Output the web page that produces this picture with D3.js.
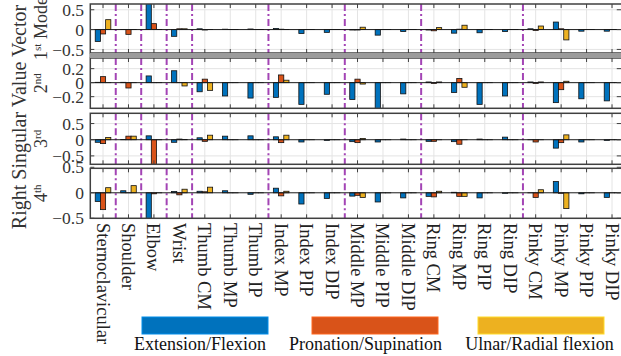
<!DOCTYPE html>
<html>
<head>
<meta charset="utf-8">
<script src="https://cdn.jsdelivr.net/npm/d3@7"></script>
<style>
  html, body { margin: 0; padding: 0; background: #fff; }
  svg { display: block; }
</style>
</head>
<body>
<svg id="chart" width="621" height="356"></svg>
<script>
// ---------------- DATA ----------------
const joints = ["Sternoclavicular","Shoulder","Elbow","Wrist","Thumb CM","Thumb MP","Thumb IP",
  "Index MP","Index PIP","Index DIP","Middle MP","Middle PIP","Middle DIP",
  "Ring CM","Ring MP","Ring PIP","Ring DIP","Pinky CM","Pinky MP","Pinky PIP","Pinky DIP"];
const dofNames = ["Extension/Flexion","Pronation/Supination","Ulnar/Radial flexion"];
const modeNames = ["1st Mode","2nd","3rd","4th"];
const groupBreaks = [1, 2, 3, 4, 7, 10, 13, 17]; // separator after these joint counts

// mode 1
const mode1Ext = [-0.30, 0.00, 0.70, -0.17, 0.02, 0.01, 0.015, 0.03, -0.10, -0.07, -0.01, -0.14, -0.05, -0.01, -0.09, -0.08, -0.05, 0.02, 0.19, -0.04, -0.04];
const mode1Pro = [-0.11, -0.12, 0.15, 0.02, -0.01, 0, 0, 0.01, 0, 0, -0.01, 0, 0, -0.03, 0.01, 0, 0, -0.02, 0.02, 0, 0];
const mode1Uln = [0.25, 0, 0, 0.02, 0, 0, 0, 0, 0, 0, 0.06, 0, 0, 0.05, 0.11, 0, 0, 0.09, -0.26, 0, 0];
// mode 2
const mode2Ext = [0.005, 0.005, 0.096, 0.17, -0.13, -0.19, -0.22, -0.21, -0.31, -0.166, -0.24, -0.40, -0.16, 0.01, -0.14, -0.31, -0.19, 0.01, -0.285, -0.23, -0.26];
const mode2Pro = [0.086, -0.076, 0, 0, 0.05, 0, 0, 0.11, 0, 0, 0.05, 0, 0, -0.01, 0.06, 0, 0, -0.01, -0.10, 0, 0];
const mode2Uln = [0, 0, 0, -0.047, -0.11, 0, 0, 0.035, 0, 0, -0.02, 0, 0, 0.01, -0.066, 0, 0, 0.01, 0.02, 0, 0];
// mode 3
const mode3Ext = [-0.08, 0.01, 0.12, -0.08, 0.06, 0.11, 0.12, 0.09, -0.07, -0.02, -0.06, -0.07, 0.02, -0.05, -0.06, 0.02, 0.08, 0, -0.26, -0.07, -0.02];
const mode3Pro = [-0.12, 0.11, -0.85, 0.02, -0.05, 0, 0, -0.09, 0, 0, -0.09, 0, 0, -0.05, -0.14, 0, 0, -0.07, -0.09, 0, 0];
const mode3Uln = [0.07, 0.11, 0, 0.01, 0.14, 0, 0, 0.14, 0, 0, 0.04, 0, 0, 0, 0, 0, 0, 0, 0.15, 0, 0];
// mode 4
const mode4Ext = [-0.17, 0.04, -0.55, 0.026, 0.03, 0.04, -0.03, 0.09, -0.22, -0.11, -0.065, -0.18, -0.10, -0.07, 0.01, -0.10, -0.01, 0, 0.22, -0.02, -0.09];
const mode4Pro = [-0.33, 0, -0.02, -0.04, 0.02, 0, 0, -0.06, 0, 0, -0.05, 0, 0, -0.08, -0.07, 0, 0, -0.09, -0.01, 0, 0];
const mode4Uln = [0.10, 0.14, 0, 0.07, 0.11, 0, 0, 0.03, 0, 0, -0.09, 0, 0, 0.03, -0.07, 0, 0, 0.06, -0.31, 0, 0];

const yTicks1 = [-0.5, 0, 0.5];
const yTicks2 = [-0.2, 0, 0.2];
const yTicks3 = [-0.5, 0, 0.5];
const yTicks4 = [-0.5, 0, 0.5];

// ---------------- STYLE / LAYOUT ----------------
const colors = ["#0072BD", "#D95319", "#EDB120"];
const serif = "'Liberation Serif','Times New Roman',serif";
const axisColor = "#404040";
const plotLeft = 90.3, plotRight = 624.75;

const panels = [
  { ext: mode1Ext, pro: mode1Pro, uln: mode1Uln, ticks: yTicks1, top: 4,     bottom: 53,    dom: [-0.59, 0.645] },
  { ext: mode2Ext, pro: mode2Pro, uln: mode2Uln, ticks: yTicks2, top: 58,    bottom: 108.3, dom: [-0.366, 0.352] },
  { ext: mode3Ext, pro: mode3Pro, uln: mode3Uln, ticks: yTicks3, top: 113.3, bottom: 164.3, dom: [-0.76, 0.817] },
  { ext: mode4Ext, pro: mode4Pro, uln: mode4Uln, ticks: yTicks4, top: 168.3, bottom: 218.3, dom: [-0.5, 0.48] }
];

const svg = d3.select("#chart");

const x = d3.scaleBand().domain(joints).range([plotLeft, plotRight]).paddingInner(0).paddingOuter(0);
const groupW = 15.6;
const x1 = d3.scaleBand().domain(d3.range(3)).range([0, groupW]).padding(0);
const xCenter = j => x(j) + x.bandwidth() / 2;

// clip to panel rectangles
const defs = svg.append("defs");

panels.forEach((p, pi) => {
  const y = d3.scaleLinear().domain(p.dom).range([p.bottom, p.top]);
  const g = svg.append("g");
  const clipId = "clip" + pi;
  defs.append("clipPath").attr("id", clipId)
    .append("rect").attr("x", plotLeft).attr("y", p.top).attr("width", plotRight - plotLeft).attr("height", p.bottom - p.top);

  const inner = g.append("g").attr("clip-path", `url(#${clipId})`);

  // vertical grid
  inner.selectAll("line.vg").data(joints).join("line")
    .attr("x1", d => xCenter(d)).attr("x2", d => xCenter(d))
    .attr("y1", p.top).attr("y2", p.bottom)
    .attr("stroke", "#e4e4e4").attr("stroke-width", 1);
  // horizontal grid
  inner.selectAll("line.hg").data(p.ticks.filter(t => t !== 0)).join("line")
    .attr("x1", plotLeft).attr("x2", plotRight)
    .attr("y1", d => y(d)).attr("y2", d => y(d))
    .attr("stroke", "#e4e4e4").attr("stroke-width", 1);

  // separators (dash-dot purple)
  inner.selectAll("line.sep").data(groupBreaks).join("line")
    .attr("x1", d => x(joints[d])).attr("x2", d => x(joints[d]))
    .attr("y1", p.top).attr("y2", p.bottom)
    .attr("stroke", "#A344B5").attr("stroke-width", 2)
    .attr("stroke-dasharray", "7,3,2,3");

  // bars
  const rows = [];
  joints.forEach((j, i) => {
    [p.ext[i], p.pro[i], p.uln[i]].forEach((v, k) => rows.push({ j, k, v }));
  });
  inner.selectAll("rect.bar").data(rows).join("rect")
    .attr("x", d => xCenter(d.j) - groupW / 2 + x1(d.k))
    .attr("width", x1.bandwidth())
    .attr("y", d => y(Math.max(0, d.v)))
    .attr("height", d => Math.max(0.01, Math.abs(y(d.v) - y(0))))
    .attr("fill", d => colors[d.k])
    .attr("stroke", "#111").attr("stroke-width", 0.8);

  // baseline
  inner.append("line")
    .attr("x1", plotLeft).attr("x2", plotRight)
    .attr("y1", y(0)).attr("y2", y(0))
    .attr("stroke", "#1a1a1a").attr("stroke-width", 1);

  // tick marks top/bottom
  const tl = 4;
  g.selectAll("line.tt").data(joints).join("line")
    .attr("x1", d => xCenter(d)).attr("x2", d => xCenter(d))
    .attr("y1", p.top).attr("y2", p.top + tl)
    .attr("stroke", axisColor).attr("stroke-width", 1);
  g.selectAll("line.tb").data(joints).join("line")
    .attr("x1", d => xCenter(d)).attr("x2", d => xCenter(d))
    .attr("y1", p.bottom).attr("y2", p.bottom - tl)
    .attr("stroke", axisColor).attr("stroke-width", 1);
  // y tick marks left/right
  g.selectAll("line.yl").data(p.ticks).join("line")
    .attr("x1", plotLeft).attr("x2", plotLeft + tl)
    .attr("y1", d => y(d)).attr("y2", d => y(d))
    .attr("stroke", axisColor).attr("stroke-width", 1);
  g.selectAll("line.yr").data(p.ticks).join("line")
    .attr("x1", plotRight - 8).attr("x2", plotRight)
    .attr("y1", d => y(d)).attr("y2", d => y(d))
    .attr("stroke", axisColor).attr("stroke-width", 1);

  // border
  g.append("rect")
    .attr("x", plotLeft).attr("y", p.top)
    .attr("width", plotRight - plotLeft).attr("height", p.bottom - p.top)
    .attr("fill", "none").attr("stroke", axisColor).attr("stroke-width", 1.5);

  // y tick labels
  g.selectAll("text.yt").data(p.ticks).join("text")
    .attr("x", 84).attr("y", d => y(d))
    .attr("dy", "0.35em")
    .attr("text-anchor", "end")
    .attr("font-family", serif).attr("font-size", 17.5)
    .attr("fill", "#333")
    .text(d => d === 0 ? "0" : d3.format("")(d).replace("0.", "0.").replace(/^(-?)0\./, "$10."));

  // mode label
  const cy = (p.top + p.bottom) / 2;
  const label = g.append("text")
    .attr("transform", `translate(47,${cy}) rotate(-90)`)
    .attr("text-anchor", "middle")
    .attr("font-family", serif).attr("font-size", 18)
    .attr("fill", "#333");
  const name = modeNames[pi];
  const m = name.match(/^(\d)(st|nd|rd|th)(.*)$/);
  label.append("tspan").text(m[1]);
  label.append("tspan").attr("font-size", 11).attr("dy", -6).text(m[2]);
  if (m[3]) label.append("tspan").attr("dy", 6).text(m[3].replace(" ", "\u00a0"));
});

// gray band between panel 1 and 2
svg.append("rect").attr("x", plotLeft - 1).attr("y", 53).attr("width", plotRight - plotLeft + 2).attr("height", 5)
  .attr("fill", "#9c9c9c");

// x labels
svg.selectAll("text.xl").data(joints).join("text")
  .attr("transform", d => `translate(${xCenter(d)},223) rotate(90)`)
  .attr("dy", "0.35em")
  .attr("text-anchor", "start")
  .attr("font-family", serif).attr("font-size", 18.5)
  .attr("fill", "#222")
  .text(d => d);

// y axis title
svg.append("text")
  .attr("transform", "translate(26,117) rotate(-90)")
  .attr("text-anchor", "middle")
  .attr("font-family", serif).attr("font-size", 20)
  .attr("fill", "#333")
  .text("Right Singular Value Vector");

// legend
const legendRects = [142, 312, 478];
const legendText = [200, 365.5, 539.5];
svg.selectAll("rect.lg").data(dofNames).join("rect")
  .attr("x", (d, i) => legendRects[i]).attr("y", 317)
  .attr("width", 126).attr("height", 17)
  .attr("fill", (d, i) => colors[i])
  .attr("stroke", (d, i) => d3.color(colors[i]).brighter(0.6)).attr("stroke-width", 1);
svg.selectAll("text.lg").data(dofNames).join("text")
  .attr("x", (d, i) => legendText[i]).attr("y", 350)
  .attr("text-anchor", "middle")
  .attr("font-family", serif).attr("font-size", 18)
  .attr("fill", "#111")
  .text(d => d);
</script>
</body>
</html>
